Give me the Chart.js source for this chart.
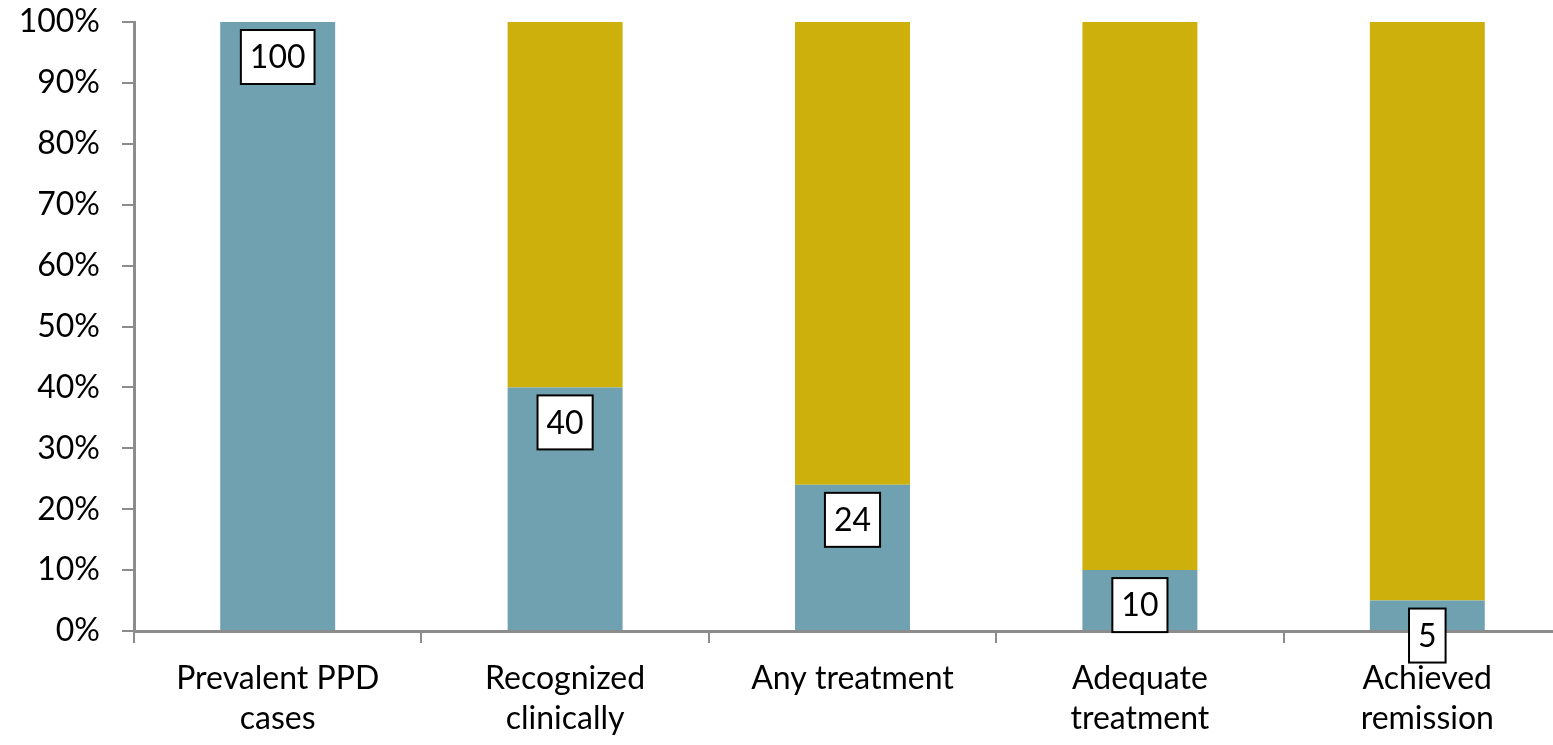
<!DOCTYPE html>
<html>
<head>
<meta charset="utf-8">
<script src="https://cdn.jsdelivr.net/npm/chart.js@4"></script>
<style>
  html, body { margin: 0; padding: 0; background: #fff; overflow: hidden; }
  #wrap { width: 1580px; height: 745px; }
</style>
</head>
<body>
<div id="wrap"><canvas id="chart"></canvas></div>
<script>
// Data
const categories = [
  ['Prevalent PPD', 'cases'],
  ['Recognized', 'clinically'],
  'Any treatment',
  ['Adequate', 'treatment'],
  ['Achieved', 'remission']
];
const reached = [100, 40, 24, 10, 5];
const notReached = [0, 60, 76, 90, 95];
const yTicks = [0, 10, 20, 30, 40, 50, 60, 70, 80, 90, 100];

const FONT = 'Lato, "Noto Sans", sans-serif';
const AXIS = '#8c8c8c';

// Boxed value labels at the top of the blue bars
const boxLabels = {
  id: 'boxLabels',
  afterDraw(chart) {
    const ctx = chart.ctx;
    const meta = chart.getDatasetMeta(0);
    ctx.save();
    ctx.font = '32px ' + FONT;
    ctx.textAlign = 'center';
    ctx.textBaseline = 'middle';
    meta.data.forEach((bar, i) => {
      const txt = String(reached[i]);
      const w = ctx.measureText(txt).width + 18;
      const h = 54;
      const top = bar.y + 8;
      ctx.fillStyle = '#fff';
      ctx.fillRect(bar.x - w / 2, top, w, h);
      ctx.strokeStyle = '#000';
      ctx.lineWidth = 2;
      ctx.strokeRect(bar.x - w / 2, top, w, h);
      ctx.fillStyle = '#000';
      ctx.fillText(txt, bar.x, top + h / 2 + 1);
    });
    ctx.restore();
  }
};

new Chart(document.getElementById('chart'), {
  type: 'bar',
  data: {
    labels: categories,
    datasets: [
      { label: 'Reached', data: reached, backgroundColor: '#6fa1b0', barPercentage: 0.4, categoryPercentage: 1 },
      { label: 'Not reached', data: notReached, backgroundColor: '#cdb00c', barPercentage: 0.4, categoryPercentage: 1 }
    ]
  },
  options: {
    responsive: true,
    maintainAspectRatio: false,
    animation: false,
    layout: { padding: { top: 22, right: 9, left: 0, bottom: 0 } },
    plugins: { legend: { display: false }, tooltip: { enabled: false } },
    scales: {
      x: {
        stacked: true,
        grid: { drawOnChartArea: false, color: AXIS, tickLength: 12, lineWidth: 2 },
        border: { color: AXIS, width: 3 },
        ticks: { color: '#000', font: { family: FONT, size: 32, lineHeight: 1.25 }, padding: 16, maxRotation: 0, autoSkip: false },
        afterFit(scale) { scale.height = 114; }
      },
      y: {
        stacked: true,
        min: 0,
        max: 100,
        afterBuildTicks(scale) { scale.ticks = yTicks.map(v => ({ value: v })); },
        grid: { drawOnChartArea: false, color: AXIS, tickLength: 12, lineWidth: 2 },
        border: { color: AXIS, width: 3 },
        ticks: { color: '#000', font: { family: FONT, size: 32 }, padding: 22, callback: v => v + '%' },
        afterFit(scale) {
          scale.width = 134;
          scale.paddingTop = 20;
          scale.paddingBottom = 0;
        }
      }
    }
  },
  plugins: [boxLabels]
});
</script>
</body>
</html>
